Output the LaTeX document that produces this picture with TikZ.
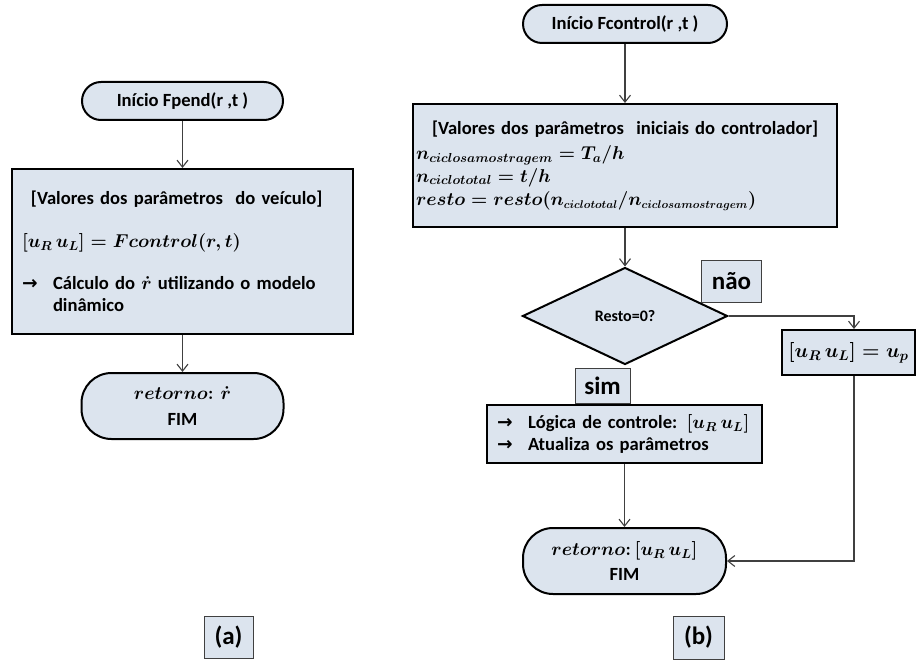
\RequirePackage{fix-cm}
\documentclass[tikz,border=0pt]{standalone}
\usepackage{graphicx}
\usepackage{fontspec}
\setmainfont{Carlito}
\newfontfamily\arrowfont{DejaVu Sans}
\usetikzlibrary{shapes.geometric,arrows.meta}
\definecolor{boxfill}{RGB}{220,228,238}
\definecolor{linegray}{RGB}{64,64,64}
\newcommand{\bul}{{\arrowfont\bfseries →}}
\newcommand{\subsm}[1]{\scalebox{0.86}{$\scriptstyle #1$}}
\begin{document}
\begin{tikzpicture}[x=1pt,y=-1pt,
font=\fontsize{18.6}{22.5}\selectfont\bfseries\boldmath,
term/.style={draw,line width=2pt,fill=boxfill,inner sep=0,align=center},
proc/.style={draw,line width=2pt,fill=boxfill,inner ysep=0,align=left},
tag/.style={draw=linegray,line width=1pt,fill=boxfill,inner sep=0,font=\fontsize{25}{28}\selectfont\bfseries},
flow/.style={-{Straight Barb[length=7pt,width=11pt]},draw=linegray,line width=1.1pt},
]
\fill[white](0,0)rectangle(917,660);
\useasboundingbox(0,0)rectangle(917,660);

%(a) Fpend
\node[term,rounded corners=19pt,minimum width=201pt,minimum height=38pt](startA)at(182.5,101){Início Fpend(r ,t )};
\node[proc,inner xsep=10pt,minimum width=341pt,minimum height=165pt,text width=321pt](boxA)at(182.5,251.5){%
\hspace*{9pt}[Valores dos parâmetros\ \ do veículo]\\[21pt]
$[u_R\,u_L]=Fcontrol(r,t)$\\[19pt]
\makebox[31pt][l]{\bul}Cálculo do $\dot r$ utilizando o modelo\\
\hspace*{31pt}dinâmico};
\node[term,rounded corners=30pt,minimum width=202pt,minimum height=66pt](endA)at(182.5,406){$retorno\colon\,\dot{r}$\\[3pt]FIM};
\node[tag,minimum width=49pt,minimum height=42pt](labA)at(228.5,637){(a)};

\draw[flow](startA)--(boxA);
\draw[flow](boxA)--(endA);

%(b) Fcontrol
\node[term,rounded corners=19pt,minimum width=204pt,minimum height=38pt](startB)at(625,24){Início Fcontrol(r ,t )};
\node[proc,inner xsep=3pt,minimum width=424pt,minimum height=123pt,text width=418pt](boxB)at(625,165.5){%
\hspace*{16pt}[Valores dos parâmetros\ \ iniciais do controlador]\\[3pt]
$n_{ciclosamostragem}=T_a/h$\\
$n_{ciclototal}=t/h$\\[1pt]
$resto=resto(n_{\subsm{ciclototal}}/n_{\subsm{ciclosamostragem}})$};
\node[diamond,draw,line width=2pt,fill=boxfill,inner sep=0,minimum width=205pt,minimum height=97pt,font=\fontsize{16}{19}\selectfont\bfseries](testB)at(625,316){Resto=0?};
\node[tag,minimum width=60pt,minimum height=42pt](naoB)at(731.5,281){não};
\node[proc,inner xsep=0pt,minimum width=133pt,minimum height=45pt,align=center,font=\fontsize{20}{24}\selectfont\boldmath](upB)at(848.5,352.5){$[u_R\,u_L]=u_p$};
\node[tag,minimum width=55pt,minimum height=35pt](simB)at(602.5,385.5){sim};
\node[proc,inner xsep=10pt,minimum width=275pt,minimum height=58pt,text width=255pt](logicB)at(624.5,434){%
\makebox[31pt][l]{\bul}Lógica de controle: $[u_R\,u_L]$\\
\makebox[31pt][l]{\bul}Atualiza os parâmetros};
\node[term,rounded corners=30pt,minimum width=203pt,minimum height=66pt](endB)at(624.5,561){$retorno\colon[u_R\,u_L]$\\[3pt]FIM};
\node[tag,minimum width=51pt,minimum height=43pt](labB)at(698.5,637.5){(b)};

\coordinate(turnB)at(854,316);
\draw[flow](startB)--(boxB);
\draw[flow](boxB)--(testB);
\draw[flow](testB.east)--(turnB)--(turnB|-upB.north);
\draw[flow](turnB|-upB.south)--(turnB|-endB.east)--(endB.east);
\draw[flow](logicB)--(endB);

\end{tikzpicture}
\end{document}
